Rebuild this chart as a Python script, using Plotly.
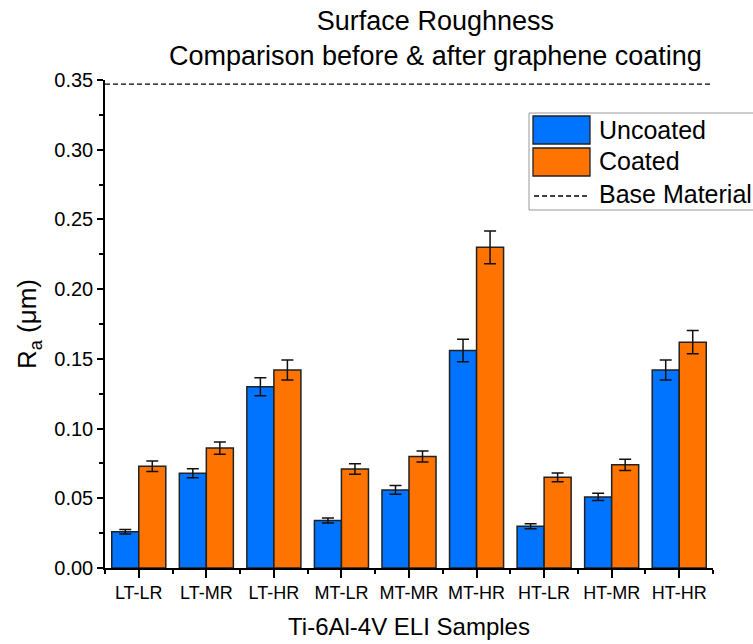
import plotly.graph_objects as go

categories = ["LT-LR", "LT-MR", "LT-HR", "MT-LR", "MT-MR", "MT-HR", "HT-LR", "HT-MR", "HT-HR"]
uncoated = [0.026, 0.068, 0.130, 0.034, 0.056, 0.156, 0.030, 0.051, 0.142]
uncoated_err = [0.0017, 0.0032, 0.0065, 0.0018, 0.0031, 0.0081, 0.0018, 0.0026, 0.0071]
coated = [0.073, 0.086, 0.142, 0.071, 0.080, 0.230, 0.065, 0.074, 0.162]
coated_err = [0.0037, 0.0044, 0.0072, 0.0038, 0.0040, 0.0117, 0.0032, 0.0040, 0.0084]
base_material = 0.347
y_ticks = [0.00, 0.05, 0.10, 0.15, 0.20, 0.25, 0.30, 0.35]

W, H = 753, 644
ML, MR, MT, MB = 105, 40, 80, 76
PW, PH = W - ML - MR, H - MT - MB

def px(x):
    return (x - ML) / PW

def py(y):
    return (H - MB - y) / PH

FONT = "Liberation Sans, Arial, sans-serif"
BLUE = "#0073FF"
ORANGE = "#FF7300"

idx = list(range(len(categories)))

fig = go.Figure()
fig.add_trace(go.Bar(
    x=idx, y=uncoated, name="Uncoated", marker=dict(color=BLUE, line=dict(color="#222", width=1.5)),
    error_y=dict(type="data", array=uncoated_err, color="#111", thickness=1.5, width=6),
    offsetgroup="u", showlegend=False))
fig.add_trace(go.Bar(
    x=idx, y=coated, name="Coated", marker=dict(color=ORANGE, line=dict(color="#222", width=1.5)),
    error_y=dict(type="data", array=coated_err, color="#111", thickness=1.5, width=6),
    offsetgroup="c", showlegend=False))
fig.add_trace(go.Scatter(
    x=[-0.5, len(categories) - 0.5], y=[base_material, base_material], mode="lines",
    line=dict(color="black", width=1.3, dash="5px,3px"), name="Base Material", showlegend=False))

fig.update_layout(
    width=W, height=H, margin=dict(l=ML, r=MR, t=MT, b=MB, autoexpand=False),
    paper_bgcolor="white", plot_bgcolor="white",
    barmode="group", bargap=0.2, bargroupgap=0,
    font=dict(family=FONT, color="black"),
    showlegend=False,
)
fig.update_xaxes(
    range=[-0.5, len(categories) - 0.5], tickmode="array", tickvals=idx, ticktext=categories,
    tickfont=dict(size=18), showline=True, linecolor="black", linewidth=1.5,
    ticks="outside", ticklen=8, tickwidth=1.5, tickcolor="black", showgrid=False, zeroline=False,
    minor=dict(ticks="outside", ticklen=4, tickwidth=1.5, tickcolor="black", tick0=-0.5, dtick=1),
    title=dict(text="Ti-6Al-4V ELI Samples", font=dict(size=24), standoff=16), automargin=False,
)
fig.update_yaxes(
    range=[0, 0.35], tickmode="array", tickvals=y_ticks, ticktext=[f"{v:.2f}" for v in y_ticks],
    tickfont=dict(size=20), showline=True, linecolor="black", linewidth=1.5,
    ticks="outside", ticklen=6, tickwidth=1.5, tickcolor="black", showgrid=False, zeroline=False,
    minor=dict(ticks="outside", ticklen=4, tickwidth=1.5, tickcolor="black", tick0=0, dtick=0.025),
    title=dict(text="R<sub>a</sub> (μm)", font=dict(size=26), standoff=10), automargin=False,
)

fig.add_annotation(
    text="Surface Roughness<br>Comparison before & after graphene coating",
    xref="paper", yref="paper", x=px(435), y=py(4), xanchor="center", yanchor="top",
    showarrow=False, font=dict(size=27, family=FONT, color="black"), align="center")

# legend drawn manually
shapes = [
    dict(type="rect", xref="paper", yref="paper", x0=px(529), x1=px(765), y0=py(113), y1=py(210),
         line=dict(color="#999", width=1), fillcolor="white", layer="above"),
    dict(type="rect", xref="paper", yref="paper", x0=px(533), x1=px(590), y0=py(116), y1=py(144),
         line=dict(color="#222", width=1.3), fillcolor=BLUE, layer="above"),
    dict(type="rect", xref="paper", yref="paper", x0=px(533), x1=px(590), y0=py(148), y1=py(176),
         line=dict(color="#222", width=1.3), fillcolor=ORANGE, layer="above"),
    dict(type="line", xref="paper", yref="paper", x0=px(534), x1=px(590), y0=py(196), y1=py(196),
         line=dict(color="black", width=1.3, dash="5px,3px"), layer="above"),
]
fig.update_layout(shapes=shapes)
for label, yc in [("Uncoated", 130), ("Coated", 161), ("Base Material", 194)]:
    fig.add_annotation(text=label, xref="paper", yref="paper", x=px(597), y=py(yc),
                       xanchor="left", yanchor="middle", showarrow=False,
                       font=dict(size=25, family=FONT, color="black"))

fig.write_html("out.html")
